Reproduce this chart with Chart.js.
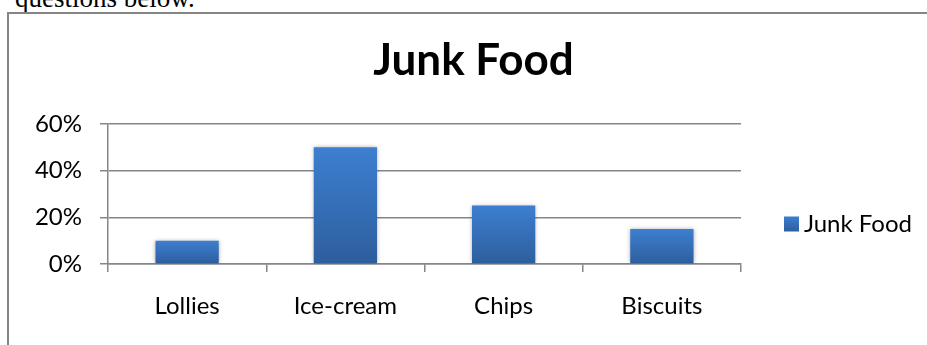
<!DOCTYPE html>
<html>
<head>
<meta charset="utf-8">
<script src="https://cdn.jsdelivr.net/npm/chart.js@4.4.1/dist/chart.umd.min.js"></script>
<style>
  html, body { margin: 0; padding: 0; background: #fff; overflow: hidden; }
  #page { position: relative; width: 927px; height: 345px; overflow: hidden; background: #fff; }
  #lead { position: absolute; left: 15px; top: -17px; font: 27px "Liberation Serif", serif; line-height: normal; color: #000; white-space: nowrap; }
  #frame { position: absolute; left: 7px; top: 12px; right: -4px; bottom: -4px; border-left: 2px solid #858585; border-top: 2px solid #858585; }
  #chart { position: absolute; left: 0; top: 0; }
</style>
</head>
<body>
<div id="page">
  <div id="lead">questions below.</div>
  <div id="frame"></div>
  <canvas id="chart" width="927" height="345"></canvas>
</div>
<script>
// Share of each snack, in percent
const categories = ['Lollies', 'Ice-cream', 'Chips', 'Biscuits'];
const seriesName = 'Junk Food';
const shares = [10, 50, 25, 15];
const yTicks = [0, 20, 40, 60];

const AXIS_GREY = '#868686';
const FLAT_BLUE = '#3670B9';
const labelFont = { family: 'Lato', size: 24 };

function blueGradient(c, top, bottom) {
  const g = c.createLinearGradient(0, top, 0, bottom);
  g.addColorStop(0, '#3D7FD0');
  g.addColorStop(1, '#2D5E9D');
  return g;
}

// Vertical light-to-dark fill for each bar, spanning the bar's own height
function barFill(ctx) {
  const chart = ctx.chart;
  const y = chart.scales && chart.scales.y;
  if (ctx.type !== 'data' || !y || !ctx.parsed) return FLAT_BLUE;
  const top = y.getPixelForValue(ctx.parsed.y);
  const base = y.getPixelForValue(0);
  if (!isFinite(top) || !isFinite(base) || top === base) return FLAT_BLUE;
  return blueGradient(chart.ctx, top, base);
}

// Keep the legend item level with the middle of plot + category labels
const legendBand = {
  id: 'legendBand',
  afterLayout(chart) {
    const lg = chart.legend;
    if (!lg) return;
    lg.top = chart.chartArea.top;
    lg.bottom = chart.scales.x.bottom;
    lg.height = lg.bottom - lg.top;
  }
};

// Soft drop shadow around the bars
const barShadow = {
  id: 'barShadow',
  beforeDatasetsDraw(chart) {
    const c = chart.ctx;
    c.save();
    c.shadowColor = 'rgba(0, 0, 0, 0.3)';
    c.shadowBlur = 4;
    c.shadowOffsetX = 0;
    c.shadowOffsetY = 0;
  },
  afterDatasetsDraw(chart) {
    chart.ctx.restore();
  }
};

new Chart(document.getElementById('chart'), {
  type: 'bar',
  data: {
    labels: categories,
    datasets: [{
      label: seriesName,
      data: shares,
      backgroundColor: barFill,
      borderWidth: 0,
      barPercentage: 0.4,
      categoryPercentage: 1.0
    }]
  },
  options: {
    responsive: false,
    animation: false,
    devicePixelRatio: 1,
    layout: { padding: { left: 35, right: 15, top: 0, bottom: 21 } },
    plugins: {
      title: {
        display: true,
        text: seriesName,
        color: '#000',
        font: { family: 'Lato', size: 44, weight: 'bold' },
        padding: { top: 34, bottom: 37 }
      },
      legend: {
        display: true,
        position: 'right',
        maxWidth: 171,
        labels: {
          boxWidth: 15,
          boxHeight: 15,
          padding: 43,
          color: '#000',
          font: labelFont,
          textAlign: 'right',
          generateLabels(chart) {
            const items = Chart.defaults.plugins.legend.labels.generateLabels(chart);
            const area = chart.chartArea;
            const x = chart.scales && chart.scales.x;
            if (area && x && isFinite(x.bottom) && isFinite(area.top)) {
              const mid = (area.top + x.bottom) / 2;
              items.forEach(it => { it.fillStyle = blueGradient(chart.ctx, mid - 8, mid + 8); });
            }
            return items;
          }
        }
      },
      tooltip: { enabled: false }
    },
    scales: {
      x: {
        grid: {
          display: true,
          offset: true,
          drawOnChartArea: false,
          drawTicks: true,
          tickLength: 8,
          color: AXIS_GREY,
          lineWidth: 1.5
        },
        border: { display: true, color: AXIS_GREY, width: 1.5 },
        ticks: { color: '#000', font: labelFont, padding: 20, maxRotation: 0 },
        afterFit(scale) { scale.height = 60; }
      },
      y: {
        min: 0,
        max: 60,
        afterBuildTicks(scale) { scale.ticks = yTicks.map(v => ({ value: v })); },
        ticks: { color: '#000', font: labelFont, padding: 18, callback: v => v + '%' },
        grid: { color: AXIS_GREY, lineWidth: 1.5, tickLength: 8, drawTicks: true },
        border: { display: true, color: AXIS_GREY, width: 1.5 },
        afterFit(scale) { scale.width = 73; }
      }
    }
  },
  plugins: [legendBand, barShadow]
});
</script>
</body>
</html>
